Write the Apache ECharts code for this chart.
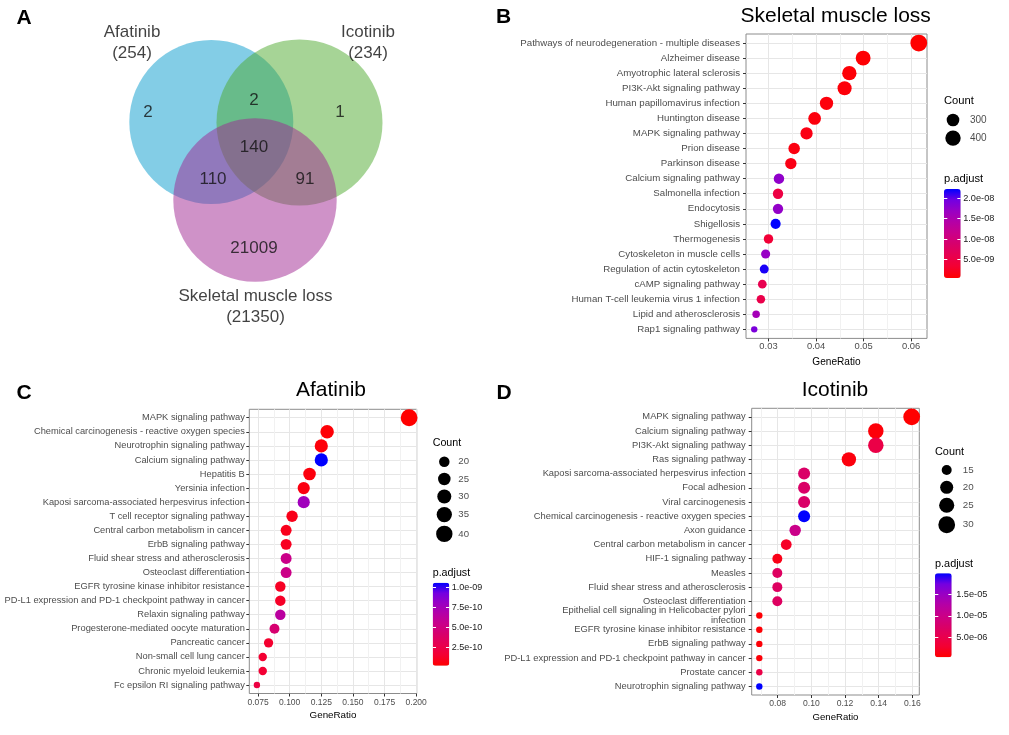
<!DOCTYPE html>
<html><head><meta charset="utf-8">
<script src="https://cdn.jsdelivr.net/npm/echarts@6/dist/echarts.min.js"></script>
<style>html,body{margin:0;padding:0;background:#fff}#chart{width:1009px;height:735px}</style>
</head><body><div id="chart"></div>
<script>
// ---------------- DATA ----------------
const vennSets = ['Afatinib', 'Icotinib', 'Skeletal muscle loss'];
const vennTotals = [254, 234, 21350];
const vennRegions = ['A', 'A&B', 'B', 'A&B&C', 'A&C', 'B&C', 'C'];
const vennCounts = [2, 2, 1, 140, 110, 91, 21009];

const panelTitles = ['Skeletal muscle loss', 'Afatinib', 'Icotinib'];

const catsB = ['Pathways of neurodegeneration - multiple diseases', 'Alzheimer disease', 'Amyotrophic lateral sclerosis',
  'PI3K-Akt signaling pathway', 'Human papillomavirus infection', 'Huntington disease', 'MAPK signaling pathway',
  'Prion disease', 'Parkinson disease', 'Calcium signaling pathway', 'Salmonella infection', 'Endocytosis',
  'Shigellosis', 'Thermogenesis', 'Cytoskeleton in muscle cells', 'Regulation of actin cytoskeleton',
  'cAMP signaling pathway', 'Human T-cell leukemia virus 1 infection', 'Lipid and atherosclerosis', 'Rap1 signaling pathway'];
const ratioB = [0.0616, 0.0499, 0.0470, 0.0460, 0.0422, 0.0397, 0.0380, 0.0354, 0.0347, 0.0322,
  0.0320, 0.0320, 0.0315, 0.0300, 0.0294, 0.0291, 0.0287, 0.0284, 0.0274, 0.0270];
const countB = [468, 379, 357, 350, 321, 302, 289, 269, 264, 245, 243, 243, 239, 228, 223, 221, 218, 216, 208, 205];
const padjB = [4.0e-10, 6.0e-10, 8.0e-10, 9.0e-10, 1.0e-9, 1.1e-9, 1.5e-9, 1.3e-9, 1.6e-9, 1.75e-8,
  4.8e-9, 1.73e-8, 2.23e-8, 3.7e-9, 1.7e-8, 2.17e-8, 5.9e-9, 5.4e-9, 1.57e-8, 1.9e-8];
const xTicksB = [0.03, 0.04, 0.05, 0.06];
const countBreaksB = [300, 400];
const padjTicksB = [5e-9, 1e-8, 1.5e-8, 2e-8];

const catsC = ['MAPK signaling pathway', 'Chemical carcinogenesis - reactive oxygen species', 'Neurotrophin signaling pathway',
  'Calcium signaling pathway', 'Hepatitis B', 'Yersinia infection', 'Kaposi sarcoma-associated herpesvirus infection',
  'T cell receptor signaling pathway', 'Central carbon metabolism in cancer', 'ErbB signaling pathway',
  'Fluid shear stress and atherosclerosis', 'Osteoclast differentiation', 'EGFR tyrosine kinase inhibitor resistance',
  'PD-L1 expression and PD-1 checkpoint pathway in cancer', 'Relaxin signaling pathway',
  'Progesterone-mediated oocyte maturation', 'Pancreatic cancer', 'Non-small cell lung cancer',
  'Chronic myeloid leukemia', 'Fc epsilon RI signaling pathway'];
const ratioC = [0.1944, 0.1296, 0.1250, 0.1250, 0.1157, 0.1111, 0.1111, 0.1019, 0.0972, 0.0972,
  0.0972, 0.0972, 0.0926, 0.0926, 0.0926, 0.0880, 0.0833, 0.0787, 0.0787, 0.0741];
const countC = [42, 28, 27, 27, 25, 24, 24, 22, 21, 21, 21, 21, 20, 20, 20, 19, 18, 17, 17, 16];
const padjC = [1.4e-11, 3e-11, 4e-11, 1.063e-9, 5e-11, 6e-11, 7.7e-10, 8e-11, 9e-11, 1.0e-10,
  5.4e-10, 5.3e-10, 1.1e-10, 1.2e-10, 6.4e-10, 4.3e-10, 1.4e-10, 1.5e-10, 1.6e-10, 2.2e-10];
const xTicksC = [0.075, 0.100, 0.125, 0.150, 0.175, 0.200];
const countBreaksC = [20, 25, 30, 35, 40];
const padjTicksC = [2.5e-10, 5e-10, 7.5e-10, 1e-9];

const catsD = ['MAPK signaling pathway', 'Calcium signaling pathway', 'PI3K-Akt signaling pathway', 'Ras signaling pathway',
  'Kaposi sarcoma-associated herpesvirus infection', 'Focal adhesion', 'Viral carcinogenesis',
  'Chemical carcinogenesis - reactive oxygen species', 'Axon guidance', 'Central carbon metabolism in cancer',
  'HIF-1 signaling pathway', 'Measles', 'Fluid shear stress and atherosclerosis', 'Osteoclast differentiation',
  'Epithelial cell signaling in Helicobacter pylori\ninfection', 'EGFR tyrosine kinase inhibitor resistance',
  'ErbB signaling pathway', 'PD-L1 expression and PD-1 checkpoint pathway in cancer', 'Prostate cancer',
  'Neurotrophin signaling pathway'];
const ratioD = [0.1596, 0.1383, 0.1383, 0.1223, 0.0957, 0.0957, 0.0957, 0.0957, 0.0904, 0.0851,
  0.0798, 0.0798, 0.0798, 0.0798, 0.0691, 0.0691, 0.0691, 0.0691, 0.0691, 0.0691];
const countD = [30, 26, 26, 23, 18, 18, 18, 18, 17, 16, 15, 15, 15, 15, 13, 13, 13, 13, 13, 13];
const padjD = [3.5e-7, 8e-7, 4.6e-6, 1.0e-6, 7.4e-6, 7.4e-6, 7.4e-6, 1.99e-5, 1.01e-5, 2.3e-6,
  1.5e-6, 6.8e-6, 6.8e-6, 6.8e-6, 6e-7, 6e-7, 7e-7, 7e-7, 4.6e-6, 1.99e-5];
const xTicksD = [0.08, 0.10, 0.12, 0.14, 0.16];
const countBreaksD = [15, 20, 25, 30];
const padjTicksD = [5e-6, 1e-5, 1.5e-5];

// ---------------- STYLE / LAYOUT ----------------
const FONT = "'Liberation Sans', Arial, Helvetica, sans-serif";
const COLORS = ['#ff0000', '#f40031', '#e8004f', '#d8006a', '#ca0089', '#b500a5', '#9a00c3', '#7300e1', '#0000ff'];
const AXTXT = '#4d4d4d', TICK = '#333333', BORDER = '#8c8c8c', LEGTXT = '#1a1a1a';
const MAJOR = '#e6e6e6', MINOR = '#f1f1f1';
const D0 = 6.4, D1 = 16.8;
function dotSize(c, lo, hi) { return D0 + (D1 - D0) * Math.sqrt(Math.max(0, (c - lo) / (hi - lo))); }
function fmtExp(v) {
  return Number(v).toExponential(1).replace(/e([+-])(\d)$/, function (m, s, d) { return 'e' + s + '0' + d; });
}

const vennGeom = {
  circles: [
    { cx: 211.3, cy: 122, r: 82, color: 'rgba(7,155,205,0.5)' },
    { cx: 299.5, cy: 122.5, r: 83, color: 'rgba(77,169,45,0.5)' },
    { cx: 255, cy: 200, r: 81.7, color: 'rgba(159,37,145,0.5)' }
  ],
  setLabelPos: [[132, 42.5], [368, 42.5], [255.5, 306.5]],
  regionPos: { 'A': [148, 112], 'A&B': [254, 100], 'B': [340, 112], 'A&B&C': [254, 147], 'A&C': [213, 179], 'B&C': [305, 179], 'C': [254, 248] }
};

const layout = [
  { grid: { left: 746, top: 34, width: 181, height: 304.4 }, xDigits: 2, ylabFont: 9.7, ylabLH: 11, xlabFont: 9.4, nameFont: 10.1,
    ylabMargin: 6, xlabMargin: 4, nameGap: 19, title: [835.7, 16.7], letter: ['B', 503.7, 17],
    leg: { x: 944, countTitleY: 101, dotX: 953, firstDotY: 120, labelX: 970, padjTitleY: 179.3, bar: [944, 189, 16.7, 89],
      titleFont: 11.2, labFont: 10, barLabFont: 9.2, barLabMargin: 2.5 } },
  { grid: { left: 249.3, top: 409.3, width: 167.4, height: 284.2 }, xDigits: 3, ylabFont: 9.3, ylabLH: 10.7, xlabFont: 8.5, nameFont: 9.8,
    ylabMargin: 4.5, xlabMargin: 4.5, nameGap: 16.6, title: [331, 390], letter: ['C', 24, 393.3],
    leg: { x: 432.7, countTitleY: 443.3, dotX: 444.3, firstDotY: 461.7, labelX: 458.3, padjTitleY: 573.3, bar: [432.7, 582.7, 16.6, 83],
      titleFont: 10.7, labFont: 9.6, barLabFont: 9, barLabMargin: 2.5 } },
  { grid: { left: 751.7, top: 408.3, width: 167.6, height: 286.7 }, xDigits: 2, ylabFont: 9.35, ylabLH: 10.7, xlabFont: 8.6, nameFont: 9.6,
    ylabMargin: 6, xlabMargin: 4.5, nameGap: 16.9, title: [835, 390], letter: ['D', 504, 393.3],
    leg: { x: 935, countTitleY: 451.7, dotX: 946.7, firstDotY: 470, labelX: 962.7, padjTitleY: 564.3, bar: [935, 573.3, 16.7, 84],
      titleFont: 10.9, labFont: 9.8, barLabFont: 9.2, barLabMargin: 4.5 } }
];

const panelData = [
  { cats: catsB, ratio: ratioB, count: countB, padj: padjB, xTicks: xTicksB, countBreaks: countBreaksB, padjTicks: padjTicksB },
  { cats: catsC, ratio: ratioC, count: countC, padj: padjC, xTicks: xTicksC, countBreaks: countBreaksC, padjTicks: padjTicksC },
  { cats: catsD, ratio: ratioD, count: countD, padj: padjD, xTicks: xTicksD, countBreaks: countBreaksD, padjTicks: padjTicksD }
];

// ---------------- OPTION ----------------
const option = {
  animation: false, backgroundColor: '#ffffff', textStyle: { fontFamily: FONT },
  grid: [], xAxis: [], yAxis: [], series: [], visualMap: [], graphic: []
};

// full-canvas pixel grid (Venn + legend keys)
option.grid.push({ left: 0, top: 0, width: 1009, height: 735, show: false, outerBoundsMode: 'none', containLabel: false });
option.xAxis.push({ type: 'value', gridIndex: 0, min: 0, max: 1009, show: false, axisLine: { onZero: false } });
option.yAxis.push({ type: 'value', gridIndex: 0, min: 0, max: 735, inverse: true, show: false, axisLine: { onZero: false } });

option.series.push({
  type: 'custom', xAxisIndex: 0, yAxisIndex: 0, silent: true, z: 1,
  data: vennSets.map(function (s, i) { return { name: s, value: [vennGeom.circles[i].cx, vennGeom.circles[i].cy] }; }),
  renderItem: function (params, api) {
    const g = vennGeom.circles[params.dataIndex];
    const c = api.coord([api.value(0), api.value(1)]);
    const r = api.size([g.r, 0])[0];
    return { type: 'circle', shape: { cx: c[0], cy: c[1], r: r }, style: { fill: g.color, stroke: null } };
  }
});
option.series.push({
  type: 'scatter', xAxisIndex: 0, yAxisIndex: 0, silent: true, z: 3, symbolSize: 0,
  data: vennRegions.map(function (r, i) { return { name: String(vennCounts[i]), value: vennGeom.regionPos[r] }; }),
  label: { show: true, position: 'inside', formatter: '{b}', fontSize: 17, color: '#111', fontFamily: FONT }
});
option.series.push({
  type: 'scatter', xAxisIndex: 0, yAxisIndex: 0, silent: true, z: 3, symbolSize: 0,
  data: vennSets.map(function (s, i) { return { name: s + '\n(' + vennTotals[i] + ')', value: vennGeom.setLabelPos[i] }; }),
  label: { show: true, position: 'inside', formatter: '{b}', fontSize: 17, lineHeight: 21, align: 'center', color: '#111', fontFamily: FONT }
});
option.graphic.push({ type: 'text', x: 24, y: 18, silent: true, z: 10,
  style: { text: 'A', fontSize: 21, fontWeight: 'bold', fontFamily: FONT, fill: '#000', align: 'center', verticalAlign: 'middle', textAlign: 'center', textVerticalAlign: 'middle' } });

panelData.forEach(function (pd, k) {
  const L = layout[k];
  const n = pd.cats.length;
  const rMin = Math.min.apply(null, pd.ratio), rMax = Math.max.apply(null, pd.ratio);
  const span = rMax - rMin;
  const xMin = rMin - 0.05 * span, xMax = rMax + 0.05 * span;
  const cMin = Math.min.apply(null, pd.count), cMax = Math.max.apply(null, pd.count);
  const pMin = Math.min.apply(null, pd.padj), pMax = Math.max.apply(null, pd.padj);
  const step = pd.xTicks[1] - pd.xTicks[0];
  const minor = [];
  for (let i = -1; i < pd.xTicks.length; i++) {
    const v = pd.xTicks[0] + (i + 0.5) * step;
    if (v > xMin && v < xMax) minor.push(v);
  }
  const idx = pd.cats.map(function (c, i) { return i; });

  const gi = option.grid.length;
  option.grid.push(Object.assign({ show: true, borderColor: BORDER, borderWidth: 1, backgroundColor: 'rgba(0,0,0,0)',
    outerBoundsMode: 'none', containLabel: false }, L.grid));
  const xa = option.xAxis.length;
  option.xAxis.push({
    type: 'value', gridIndex: gi, min: xMin, max: xMax, position: 'bottom',
    axisLine: { show: false, onZero: false },
    axisTick: { show: true, customValues: pd.xTicks, length: 3, lineStyle: { color: TICK, width: 1 } },
    axisLabel: { show: true, customValues: pd.xTicks, hideOverlap: false, formatter: function (v) { return Number(v).toFixed(L.xDigits); },
      fontSize: L.xlabFont, color: AXTXT, margin: L.xlabMargin, fontFamily: FONT },
    splitLine: { show: true, lineStyle: { color: MAJOR, width: 1 } },
    name: 'GeneRatio', nameLocation: 'middle', nameGap: L.nameGap,
    nameTextStyle: { fontSize: L.nameFont, color: '#000', fontFamily: FONT }
  });
  option.xAxis.push({
    type: 'value', gridIndex: gi, min: xMin, max: xMax, position: 'top',
    axisLine: { show: false, onZero: false }, axisTick: { show: false, customValues: minor },
    axisLabel: { show: false, customValues: minor },
    splitLine: { show: true, lineStyle: { color: MINOR, width: 1 } }
  });
  const ya = option.yAxis.length;
  option.yAxis.push({
    type: 'value', gridIndex: gi, min: -0.6, max: n - 0.4, inverse: true,
    axisLine: { show: false, onZero: false },
    axisTick: { show: true, customValues: idx, length: 3, lineStyle: { color: TICK, width: 1 } },
    axisLabel: { show: true, customValues: idx, hideOverlap: false, formatter: function (v) { return pd.cats[Math.round(v)]; },
      fontSize: L.ylabFont, lineHeight: L.ylabLH, color: AXTXT, margin: L.ylabMargin, fontFamily: FONT, align: 'right' },
    splitLine: { show: true, lineStyle: { color: MAJOR, width: 1 } }
  });

  const si = option.series.length;
  option.series.push({
    type: 'scatter', xAxisIndex: xa, yAxisIndex: ya, z: 2, silent: true,
    data: pd.ratio.map(function (r, i) { return [r, i, pd.count[i], pd.padj[i]]; }),
    symbolSize: function (v) { return dotSize(v[2], cMin, cMax); },
    itemStyle: { opacity: 1, borderWidth: 0 }
  });
  const bar = L.leg.bar;
  option.visualMap.push({
    type: 'continuous', seriesIndex: si, dimension: 3, min: pMin, max: pMax,
    inRange: { color: COLORS }, calculable: false, show: true, orient: 'vertical',
    left: bar[0], top: bar[1], itemWidth: bar[2], itemHeight: bar[3], padding: 0,
    text: null, hoverLink: false, showLabel: false
  });

  // colorbar label axis
  const cg = option.grid.length;
  option.grid.push({ left: bar[0], top: bar[1], width: bar[2], height: bar[3], show: false, outerBoundsMode: 'none', containLabel: false });
  option.xAxis.push({ type: 'value', gridIndex: cg, min: 0, max: 1, show: false, axisLine: { onZero: false } });
  option.yAxis.push({
    type: 'value', gridIndex: cg, min: pMin, max: pMax, position: 'right', z: 10,
    axisLine: { show: false, onZero: false },
    axisTick: { show: true, inside: true, length: bar[2] / 5, customValues: pd.padjTicks, lineStyle: { color: '#ffffff', width: 1 } },
    axisLabel: { show: true, customValues: pd.padjTicks, hideOverlap: false, formatter: fmtExp, margin: L.leg.barLabMargin,
      fontSize: L.leg.barLabFont, color: LEGTXT, fontFamily: FONT },
    splitLine: { show: false }
  });
  option.yAxis.push({
    type: 'value', gridIndex: cg, min: pMin, max: pMax, position: 'left', z: 10,
    axisLine: { show: false, onZero: false },
    axisTick: { show: true, inside: true, length: bar[2] / 5, customValues: pd.padjTicks, lineStyle: { color: '#ffffff', width: 1 } },
    axisLabel: { show: false }, splitLine: { show: false }
  });

  // size legend
  const pts = [];
  let y = L.leg.firstDotY, prevH = null;
  pd.countBreaks.forEach(function (c, i) {
    const d = dotSize(c, cMin, cMax);
    const h = Math.max(17.3, d + 3.5);
    if (i > 0) y += (prevH + h) / 2;
    pts.push([y, c]);
    prevH = h;
  });
  option.series.push({
    type: 'scatter', xAxisIndex: 0, yAxisIndex: 0, silent: true, z: 3,
    data: pts.map(function (p) { return [L.leg.dotX, p[0], p[1]]; }),
    symbolSize: function (v) { return dotSize(v[2], cMin, cMax); },
    itemStyle: { color: '#000000', opacity: 1 }
  });
  option.series.push({
    type: 'scatter', xAxisIndex: 0, yAxisIndex: 0, silent: true, z: 3, symbolSize: 0,
    data: pts.map(function (p) { return { name: String(p[1]), value: [L.leg.labelX, p[0]] }; }),
    label: { show: true, position: 'right', distance: 0, formatter: '{b}', fontSize: L.leg.labFont, color: LEGTXT, fontFamily: FONT }
  });

  // texts
  option.graphic.push({ type: 'text', x: L.letter[1], y: L.letter[2], silent: true, z: 10,
    style: { text: L.letter[0], fontSize: 21, fontWeight: 'bold', fontFamily: FONT, fill: '#000', align: 'center', verticalAlign: 'middle', textAlign: 'center', textVerticalAlign: 'middle' } });
  option.graphic.push({ type: 'text', x: L.title[0], y: L.title[1], silent: true, z: 10,
    style: { text: panelTitles[k], fontSize: 21, fontFamily: FONT, fill: '#000', align: 'center', verticalAlign: 'middle', textAlign: 'center', textVerticalAlign: 'middle' } });
  option.graphic.push({ type: 'text', x: L.leg.x, y: L.leg.countTitleY, silent: true, z: 10,
    style: { text: 'Count', fontSize: L.leg.titleFont, fontFamily: FONT, fill: '#000', align: 'left', verticalAlign: 'middle', textAlign: 'left', textVerticalAlign: 'middle' } });
  option.graphic.push({ type: 'text', x: L.leg.x, y: L.leg.padjTitleY, silent: true, z: 10,
    style: { text: 'p.adjust', fontSize: L.leg.titleFont, fontFamily: FONT, fill: '#000', align: 'left', verticalAlign: 'middle', textAlign: 'left', textVerticalAlign: 'middle' } });
});

const chart = echarts.init(document.getElementById('chart'), null, { renderer: 'canvas' });
chart.setOption(option);
</script>
</body></html>
